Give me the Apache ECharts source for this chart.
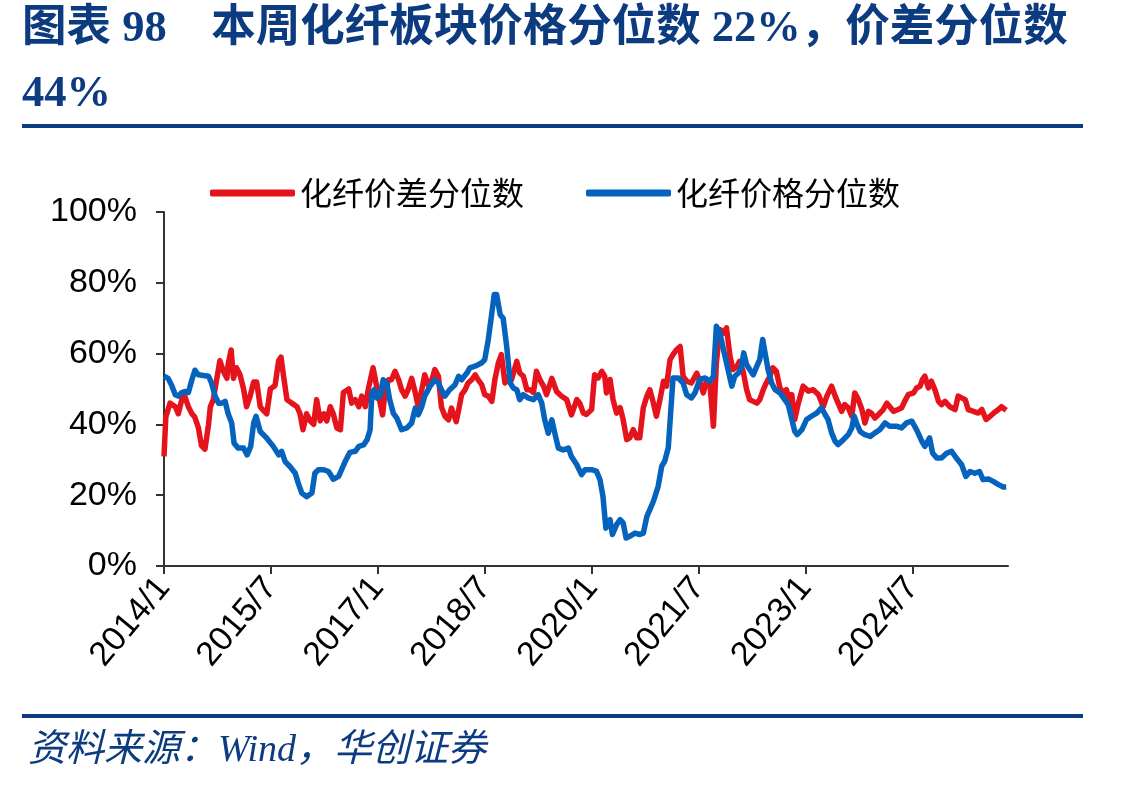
<!DOCTYPE html>
<html>
<head>
<meta charset="utf-8">
<script src="https://cdn.jsdelivr.net/npm/echarts@6/dist/echarts.min.js"></script>
<style>
  html, body { margin: 0; padding: 0; background: #fff; }
  #chart { width: 1141px; height: 788px; }
</style>
</head>
<body>
<div id="chart"></div>
<script>
// x values are months counted from 2014/1
let tickMonths = [0, 18, 36, 54, 72, 90, 108, 126];

let spreadMonths = [0, 0.3, 1.0, 1.9, 2.4, 3.0, 3.5, 4.1, 4.7, 5.2, 5.8, 6.3, 6.9, 7.5, 7.8, 8.3, 8.9, 9.4, 10.0, 10.6,
    10.8, 11.3, 11.7, 12.2, 12.8, 13.4, 13.9, 14.5, 15.1, 15.6, 16.2, 16.7, 17.3, 17.9, 18.7, 19.3, 19.7, 20.1, 20.7, 21.5,
    22.4, 22.9, 23.4, 24.0, 24.6, 25.2, 25.7, 26.3, 26.9, 27.4, 28.0, 28.5, 29.1, 29.7, 30.2, 31.1, 31.6, 32.2, 32.8, 33.3,
    33.9, 34.4, 35.2, 35.8, 36.4, 36.8, 37.2, 37.8, 38.3, 38.9, 39.5, 40.0, 40.6, 41.1, 41.7, 42.3, 42.8, 43.4, 43.9, 44.5,
    45.1, 45.6, 46.2, 46.7, 47.3, 47.9, 48.4, 49.2, 49.6, 50.1, 50.7, 51.2, 51.8, 52.4, 52.9, 53.5, 54.0, 54.6, 55.2, 55.7,
    56.3, 56.8, 57.4, 58.0, 58.5, 59.4, 59.9, 60.5, 61.1, 61.6, 62.2, 62.7, 63.3, 63.9, 64.4, 65.3, 66.1, 66.9, 67.8, 68.6,
    69.5, 70.0, 70.6, 71.1, 72.0, 72.5, 73.1, 73.7, 74.2, 74.5, 75.1, 75.6, 76.2, 76.8, 77.3, 77.9, 78.4, 79.0, 79.6, 80.1,
    80.7, 81.3, 81.8, 82.4, 82.9, 83.5, 84.1, 84.6, 85.2, 85.7, 86.3, 86.9, 87.4, 88.0, 88.8, 89.7, 90.2, 90.8, 91.4, 91.9,
    92.5, 93.0, 93.6, 94.2, 94.7, 95.3, 95.8, 96.4, 96.9, 97.5, 98.1, 98.6, 99.2, 99.8, 100.3, 100.9, 101.4, 102.0, 102.5, 103.1,
    103.7, 104.3, 104.8, 105.4, 105.7, 106.2, 106.8, 107.6, 108.5, 109.3, 110.2, 111.0, 111.6, 112.4, 113.0, 113.5, 114.1, 114.6, 115.2, 115.8,
    116.3, 116.9, 117.5, 118.0, 118.6, 119.1, 119.7, 120.3, 121.1, 121.7, 122.2, 122.8, 123.6, 124.2, 124.7, 125.3, 126.2, 126.7, 127.3, 127.7,
    128.1, 128.7, 129.2, 129.8, 130.4, 130.9, 131.5, 132.3, 133.2, 133.7, 134.3, 134.9, 135.4, 136.3, 137.1, 137.7, 138.4, 139.1, 139.7, 140.5,
    141.0, 141.8];
let spreadValues = [31, 42, 46, 45, 43, 47, 48, 45, 43, 42, 39, 34, 33, 40, 45, 47, 53, 58, 55, 53,
    57, 61, 53, 56, 54, 50, 45, 48, 52, 52, 45, 44, 43, 50, 51, 58, 59, 54, 47, 46,
    45, 43, 38.5, 43, 41, 40, 47, 41, 43, 41, 45, 43, 39, 38.5, 49, 50, 46, 47, 45, 48,
    45, 50, 56, 50.8, 46, 42.7, 49, 52.6, 52.6, 55, 52.6, 49.8, 48, 49.8, 53, 49, 45, 49.8, 54, 51,
    52.6, 55.5, 53.6, 45, 42.3, 41.3, 44.6, 40.8, 44, 48.4, 49.8, 51.7, 52.6, 54, 52.6, 51.2, 48.4, 48, 46.5, 52.6,
    57.4, 59.7, 51.7, 53.6, 52.6, 57.8, 54.5, 53.6, 49.8, 49.8, 49, 55, 52.6, 50.8, 48.4, 53, 49.3, 48, 47, 42.7,
    47, 46, 43.2, 42.8, 44.2, 54, 53.1, 55, 53.6, 48.9, 52.7, 47, 43.2, 44.7, 41.4, 35.7, 36.2, 38.5, 36.2, 36.2,
    44.7, 48, 49.8, 46, 42.3, 47, 52.2, 50.8, 58.3, 59.7, 61.1, 62, 53.6, 52.2, 51.7, 54.5, 52.2, 48.9, 52.7, 51.7,
    39.5, 57.4, 66.8, 65.8, 67.3, 59.2, 55.5, 56.2, 57.8, 55, 49.8, 47, 46.5, 46, 47, 49.8, 51.7, 53.6, 56, 55,
    50.3, 48.9, 49.8, 46, 48.4, 41.4, 46, 50.8, 49.4, 49.8, 48.4, 45, 48, 50.8, 48, 46, 43.7, 45.6, 44.7, 42.3,
    48.9, 47, 44.2, 40.4, 43.7, 43.2, 41.8, 42.8, 44.2, 46, 45, 43.7, 44.2, 44.7, 46.5, 48.4, 48.9, 50.3, 50.8, 52.7,
    53.6, 50.3, 52.2, 49.8, 46.5, 45.6, 46.5, 45, 44.2, 48, 47.5, 47, 44.2, 43.7, 43.2, 44.2, 41.4, 42.3, 43.2, 44.2,
    45, 44];

let priceMonths = [0, 0.7, 1.3, 1.9, 2.4, 3.0, 3.5, 4.1, 4.7, 5.2, 5.8, 6.6, 7.5, 8.0, 8.6, 9.2, 9.7, 10.3, 10.8, 11.4,
    11.8, 12.5, 13.4, 14.0, 14.6, 15.1, 15.5, 16.2, 17.3, 18.4, 19.3, 19.8, 20.4, 21.2, 22.1, 22.6, 23.2, 24.0, 24.9, 25.4,
    26.0, 26.9, 27.7, 28.5, 29.4, 29.9, 30.5, 31.3, 32.2, 32.8, 33.6, 34.2, 34.7, 35.0, 35.4, 35.8, 36.4, 36.9, 37.5, 38.0,
    38.6, 39.2, 40.0, 40.9, 41.7, 42.3, 42.8, 43.4, 43.9, 44.8, 45.6, 46.2, 46.7, 47.3, 48.1, 49.0, 49.6, 50.1, 51.0, 51.5,
    52.6, 53.5, 54.0, 54.6, 55.2, 55.6, 56.0, 56.6, 57.1, 57.7, 58.3, 58.8, 59.4, 59.9, 60.5, 61.3, 62.2, 63.0, 63.6, 64.1,
    64.7, 65.3, 65.8, 66.4, 67.2, 68.1, 68.6, 69.5, 70.3, 70.9, 72.0, 72.8, 73.4, 73.9, 74.4, 75.1, 75.5, 76.2, 76.8, 77.3,
    77.8, 78.4, 79.3, 80.1, 80.7, 81.3, 81.8, 82.4, 83.2, 83.8, 84.3, 84.9, 85.3, 85.7, 86.6, 87.4, 88.0, 88.8, 89.4, 90.2,
    91.1, 91.9, 92.5, 93.0, 93.6, 94.2, 94.7, 95.6, 96.1, 96.7, 97.2, 97.6, 98.1, 98.6, 99.2, 99.8, 100.3, 100.8, 101.2, 101.7,
    102.3, 102.9, 103.7, 104.3, 105.1, 105.7, 106.2, 106.6, 107.4, 108.2, 109.0, 109.9, 110.7, 111.3, 111.8, 112.4, 113.0, 113.5, 114.4, 115.2,
    115.8, 116.2, 116.6, 117.2, 118.0, 118.9, 119.7, 120.5, 121.4, 122.2, 123.3, 124.2, 125.0, 125.9, 126.7, 127.6, 128.1, 128.9, 129.4, 130.1,
    130.9, 131.8, 132.6, 133.4, 134.3, 135.0, 135.7, 136.5, 137.3, 137.9, 138.8, 139.6, 140.5, 141.3, 141.8];
let priceValues = [53.6, 53, 51, 48.4, 48, 49, 49.3, 49, 52.6, 55.3, 54, 53.8, 53.6, 51.7, 48, 46, 46, 46.5, 43, 40.4,
    34.7, 33.3, 33.3, 31.4, 33.8, 40.4, 42.3, 38, 36.1, 33.8, 31.4, 32.4, 29.5, 28.1, 26.2, 23.4, 20.6, 19.6, 20.6, 26.2,
    27.2, 27.2, 26.7, 24.5, 25.3, 27.2, 29.5, 32.1, 32.4, 33.8, 34.2, 35.7, 38.5, 48.9, 49.8, 47.5, 48, 52.6, 51.7, 47,
    43.2, 41.8, 38.5, 39, 40.4, 44.6, 42.7, 45, 48, 50.8, 52.6, 51.7, 49.8, 48, 49.8, 51.2, 53.6, 52.6, 54.5, 56,
    56.6, 57.4, 58.3, 64, 71.5, 76.7, 76.7, 71, 70, 62, 51.7, 50.3, 49.8, 47, 48.4, 47.5, 47, 48.4, 46, 41.3,
    37.5, 41.3, 37.5, 33.3, 32.8, 33.3, 30.9, 28.6, 25.8, 27.2, 27.2, 26.8, 24.4, 19.7, 10.7, 13.1, 8.9, 11.7, 13.1, 12.2,
    7.9, 8.4, 9.3, 8.9, 9.3, 14, 15.9, 18.3, 22.5, 28.2, 29.6, 33.4, 43.2, 53.1, 53.1, 51.7, 48.4, 47.5, 48.9, 52.7,
    53.1, 52.2, 53.6, 67.7, 65.8, 61.1, 57.4, 50.8, 53.6, 54.5, 56, 60.2, 56.9, 55.5, 54, 56.4, 58.3, 64, 60.2, 55.5,
    51.7, 49.8, 48.9, 47.5, 45.6, 41.4, 38, 37.1, 38.5, 41.4, 42.3, 43.2, 44.7, 42.8, 41.4, 37.6, 35.2, 34.3, 35.7, 37.1,
    39, 42.3, 40.4, 38, 37.1, 36.6, 37.6, 38.5, 40.4, 39.5, 39.5, 39, 40.4, 40.9, 38.5, 35.2, 33.8, 36.2, 31.9, 30.5,
    30.5, 31.9, 32.4, 30.5, 28.6, 25.3, 26.7, 26.2, 26.7, 24.4, 24.6, 23.9, 23, 22.3, 22.3];

let spreadName = '化纤价差分位数';
let priceName = '化纤价格分位数';
let navy = '#0d3b80';

function pairUp(xs, ys) {
    return xs.map(function (x, i) { return [x, ys[i]]; });
}

function monthLabel(m) {
    const year = 2014 + Math.floor(m / 12);
    const month = (m % 12) + 1;
    return year + '/' + month;
}

const dom = document.getElementById('chart');
const myChart = echarts.init(dom, null, { renderer: 'canvas' });

const option = {
    animation: false,
    backgroundColor: '#ffffff',
    graphic: [
        {
            type: 'text', left: 22, top: 7,
            style: {
                text: '图表 98　本周化纤板块价格分位数 22%，价差分位数',
                fill: navy, fontSize: 44.5, fontWeight: 'bold',
                fontFamily: "'Liberation Serif', 'Noto Sans CJK SC'"
            }
        },
        {
            type: 'text', left: 22, top: 72,
            style: {
                text: '44%', fill: navy, fontSize: 44.5, fontWeight: 'bold',
                fontFamily: "'Liberation Serif', 'Noto Sans CJK SC'"
            }
        },
        { type: 'rect', left: 22, top: 124, shape: { width: 1061, height: 4 }, style: { fill: navy } },
        { type: 'rect', left: 22, top: 714, shape: { width: 1061, height: 4 }, style: { fill: navy } },
        {
            type: 'text', left: 28, top: 732,
            style: {
                text: '资料来源：Wind，华创证券', fill: navy, fontSize: 38, fontStyle: 'italic',
                fontFamily: "'Liberation Serif', 'Noto Sans CJK SC'"
            }
        }
    ],
    legend: {
        data: [spreadName, priceName],
        left: 205, top: 172,
        icon: 'roundRect',
        itemWidth: 85, itemHeight: 7,
        itemGap: 62,
        textStyle: { fontSize: 32, color: '#000', fontFamily: 'Noto Sans CJK SC' }
    },
    grid: { left: 164, right: 133, top: 212, bottom: 222 },
    xAxis: {
        type: 'value',
        min: 0,
        max: 142.1,
        axisLine: { show: true, lineStyle: { color: '#333', width: 2 } },
        axisTick: { show: true, length: 8, customValues: tickMonths, lineStyle: { color: '#333', width: 2 } },
        axisLabel: {
            customValues: tickMonths,
            rotate: 50, margin: 16,
            fontSize: 34, color: '#000', fontFamily: "'Liberation Sans', Arial",
            formatter: function (v) { return monthLabel(v); }
        },
        splitLine: { show: false }
    },
    yAxis: {
        type: 'value',
        min: 0, max: 100, interval: 20,
        axisLine: { show: true, lineStyle: { color: '#333', width: 2 } },
        axisTick: { show: true, length: 8, lineStyle: { color: '#333', width: 2 } },
        axisLabel: {
            formatter: '{value}%', margin: 27,
            fontSize: 34, color: '#000', fontFamily: "'Liberation Sans', Arial"
        },
        splitLine: { show: false }
    },
    series: [
        {
            name: spreadName,
            type: 'line',
            showSymbol: false,
            data: pairUp(spreadMonths, spreadValues),
            itemStyle: { color: '#e5141c' },
            lineStyle: { color: '#e5141c', width: 5.5, join: 'round' }
        },
        {
            name: priceName,
            type: 'line',
            showSymbol: false,
            data: pairUp(priceMonths, priceValues),
            itemStyle: { color: '#0563bd' },
            lineStyle: { color: '#0563bd', width: 5.5, join: 'round' }
        }
    ]
};

if (option && typeof option === "object") {
    myChart.setOption(option, true);
}
</script>
</body>
</html>
